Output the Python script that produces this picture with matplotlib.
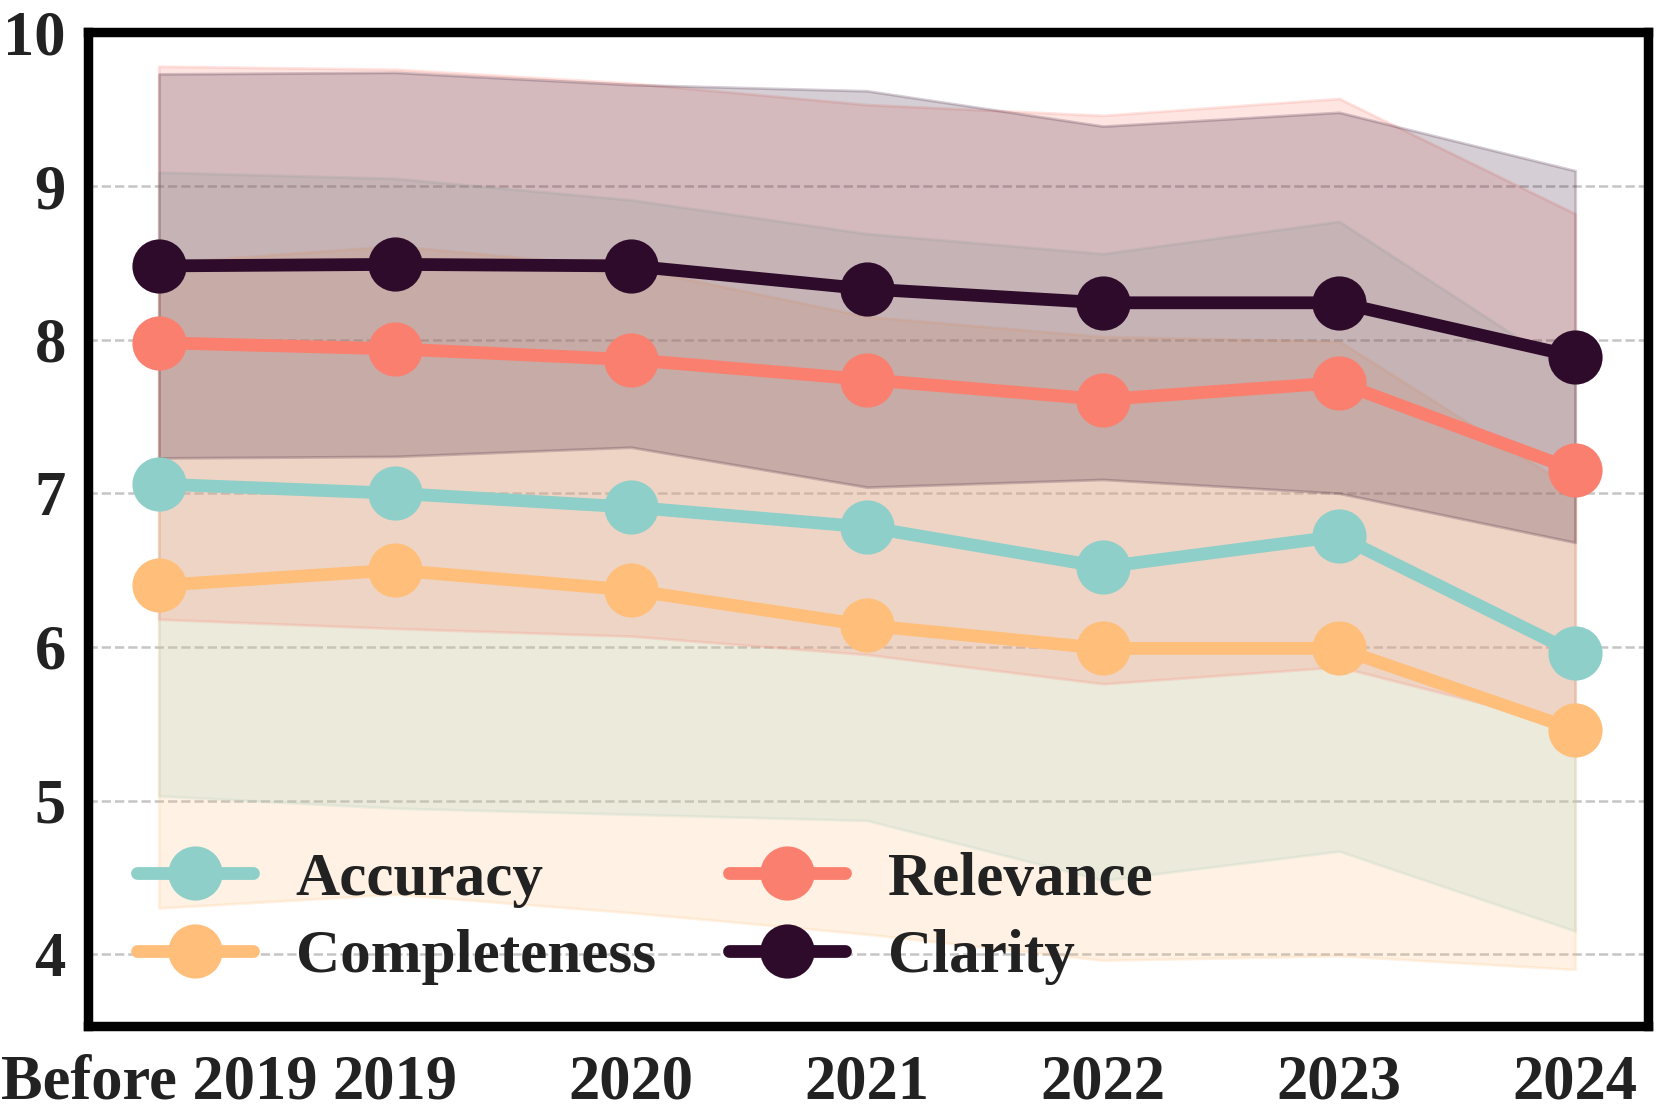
import matplotlib
matplotlib.use("Agg")
import matplotlib.pyplot as plt
import numpy as np

years = ["Before 2019", "2019", "2020", "2021", "2022", "2023", "2024"]
series = ["Accuracy", "Completeness", "Relevance", "Clarity"]
colors = ["#8ECFC9", "#FFBE7A", "#FA7F6F", "#2E0B2A"]

accuracy = [7.06, 7.00, 6.91, 6.78, 6.52, 6.72, 5.96]
completeness = [6.40, 6.50, 6.37, 6.14, 5.99, 5.99, 5.46]
relevance = [7.98, 7.94, 7.87, 7.74, 7.61, 7.72, 7.15]
clarity = [8.48, 8.49, 8.48, 8.33, 8.24, 8.24, 7.89]

accuracy_std = [2.03, 2.05, 2.00, 1.91, 2.04, 2.05, 1.81]
completeness_std = [2.10, 2.11, 2.10, 2.01, 2.03, 2.00, 1.56]
relevance_std = [1.80, 1.82, 1.80, 1.79, 1.85, 1.85, 1.67]
clarity_std = [1.25, 1.25, 1.18, 1.29, 1.15, 1.24, 1.21]

means = [accuracy, completeness, relevance, clarity]
stds = [accuracy_std, completeness_std, relevance_std, clarity_std]

plt.rcParams["font.family"] = ["Liberation Serif", "DejaVu Serif"]
plt.rcParams["font.weight"] = "bold"

fig, ax = plt.subplots(figsize=(8.3, 5.59), dpi=200)
fig.subplots_adjust(left=0.053, right=0.993, top=0.971, bottom=0.082)

x = np.arange(len(years))
for name, m, s, c in zip(series, means, stds, colors):
    m = np.array(m)
    s = np.array(s)
    ax.fill_between(x, m - s, m + s, color=c, alpha=0.2, linewidth=1, zorder=1)
for name, m, c in zip(series, means, colors):
    ax.plot(x, m, "-o", color=c, lw=4.6, ms=18.5, label=name, zorder=3,
            solid_capstyle="round")

ax.set_xlim(-0.3, 6.31)
ax.set_ylim(3.53, 10)
ax.set_xticks(x)
ax.set_xticklabels(years)
ax.set_yticks([4, 5, 6, 7, 8, 9, 10])
ax.tick_params(length=0, labelsize=22.5)
ax.tick_params(axis="x", pad=10)
ax.tick_params(axis="y", pad=8)
for lab in ax.get_xticklabels() + ax.get_yticklabels():
    lab.set_fontweight("bold")
    lab.set_color("#222222")
ax.yaxis.grid(True, ls="--", color="gray", alpha=0.45, lw=0.9, zorder=0)
ax.set_axisbelow(True)
for sp in ax.spines.values():
    sp.set_linewidth(3.4)
    sp.set_color("black")

ax.legend(loc="lower left", bbox_to_anchor=(-0.004, -0.014), ncol=2, frameon=False,
          prop={"size": 22, "weight": "bold"}, handlelength=1.9, handletextpad=0.7,
          columnspacing=1.2, labelspacing=0.35, labelcolor="#222222")

fig.savefig("out.png", dpi=200)
